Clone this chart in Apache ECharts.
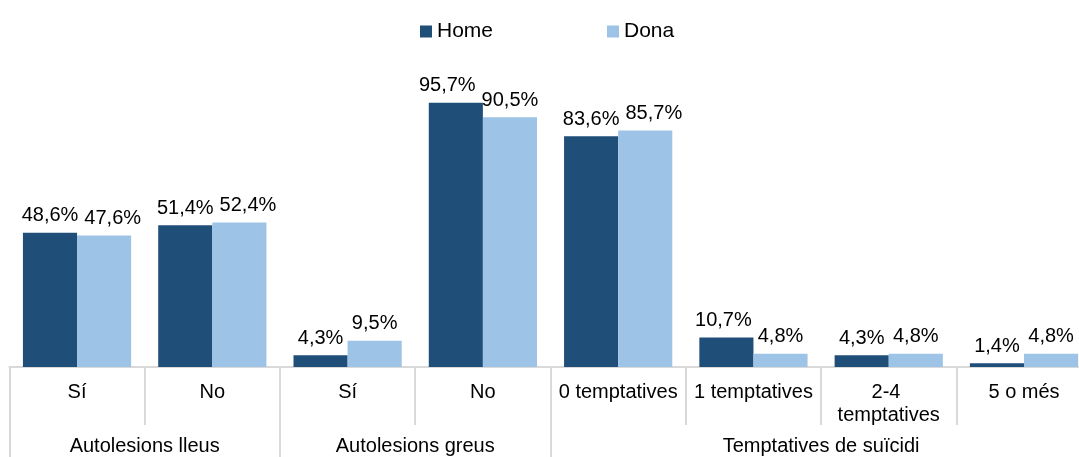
<!DOCTYPE html>
<html>
<head>
<meta charset="utf-8">
<script src="https://cdn.jsdelivr.net/npm/echarts@6/dist/echarts.min.js"></script>
<style>
  html, body { margin: 0; padding: 0; background: #fff; overflow: hidden; }
  /* the last category runs past the right edge of the page */
  #chart { width: 1092px; height: 457px; }
</style>
</head>
<body>
<div id="chart"></div>
<script>
// Categories and their parent groups
const categories = ['Sí', 'No', 'Sí', 'No', '0 temptatives', '1 temptatives', '2-4 temptatives', '5 o més'];
const groups = ['Autolesions lleus', 'Autolesions greus', 'Temptatives de suïcidi'];
const groupSpans = [2, 2, 4];

// Percentages per sex
const home = [48.6, 51.4, 4.3, 95.7, 83.6, 10.7, 4.3, 1.4];
const dona = [47.6, 52.4, 9.5, 90.5, 85.7, 4.8, 4.8, 4.8];

const FONT = "'Liberation Sans', Arial, sans-serif";
const FS = 20;
const GRID_LINE = '#d9d9d9';
const Y_MAX = 100;
const GRID_TOP = 91;
const GRID_BOTTOM = 90;
const LABEL_GAP = 6;

// Group axis uses half-category slots so group labels sit at group centres
// and ticks sit on group boundaries.
const halfSlots = [];
const groupLabelAt = {};
const groupTickAt = { 0: true };
let pos = 0;
groups.forEach((g, i) => {
  groupLabelAt[pos + groupSpans[i]] = g;
  pos += groupSpans[i] * 2;
  groupTickAt[pos] = true;
});
for (let i = 0; i <= categories.length * 2; i++) halfSlots.push(groupLabelAt[i] || '');

const pct = v => v.toFixed(1).replace('.', ',') + '%';
const fmt = p => pct(p.value);

const measureCtx = document.createElement('canvas').getContext('2d');
measureCtx.font = FS + "px 'Liberation Sans', Arial, sans-serif";
const textW = s => measureCtx.measureText(s).width;

// Keep paired value labels from colliding: when the two labels of a category
// sit at nearly the same height and touch, push one of them sideways.
function pairLabelLayout(params) {
  const i = params.dataIndex;
  const plotH = 457 - GRID_TOP - GRID_BOTTOM;
  const dyPx = Math.abs(home[i] - dona[i]) * plotH / Y_MAX;
  if (dyPx >= params.labelRect.height) return {};
  const overlap = textW(pct(home[i])) / 2 + textW(pct(dona[i])) / 2 + LABEL_GAP - params.rect.width;
  if (overlap <= 0) return {};
  const donaLower = home[i] - dona[i] > 3;
  if (params.seriesIndex === 1 && !donaLower) return { dx: overlap };
  if (params.seriesIndex === 0 && donaLower) return { dx: -overlap };
  return {};
}

const labelStyle = {
  show: true, position: 'top', distance: 7,
  fontSize: FS, color: '#000', fontFamily: FONT, formatter: fmt
};

const chart = echarts.init(document.getElementById('chart'));
chart.setOption({
  animation: false,
  textStyle: { fontFamily: FONT },
  legend: {
    left: 415,
    top: 16,
    icon: 'rect',
    itemWidth: 12,
    itemHeight: 12,
    itemGap: 114,
    textStyle: { fontSize: 21, color: '#000', fontFamily: FONT },
    data: ['Home', 'Dona']
  },
  grid: { left: 9.4, right: 0, top: GRID_TOP, bottom: GRID_BOTTOM, containLabel: false },
  xAxis: [
    {
      type: 'category',
      data: categories,
      axisLine: { lineStyle: { color: GRID_LINE, width: 2 } },
      axisTick: { show: true, interval: 0, length: 58, lineStyle: { color: GRID_LINE, width: 2 } },
      axisLabel: {
        interval: 0,
        margin: 14,
        fontSize: FS,
        color: '#000',
        fontFamily: FONT,
        width: 130,
        overflow: 'break',
        lineHeight: 23,
        align: 'center'
      }
    },
    {
      type: 'category',
      data: halfSlots,
      boundaryGap: false,
      position: 'bottom',
      axisLine: { show: false },
      axisTick: {
        show: true,
        interval: idx => !!groupTickAt[idx],
        length: 100,
        lineStyle: { color: GRID_LINE, width: 2 }
      },
      axisLabel: {
        interval: idx => !!groupLabelAt[idx],
        margin: 69,
        fontSize: FS,
        color: '#000',
        fontFamily: FONT
      }
    }
  ],
  yAxis: { type: 'value', min: 0, max: Y_MAX, show: false },
  series: [
    {
      name: 'Home',
      type: 'bar',
      data: home,
      barGap: '0%',
      barCategoryGap: '20%',
      itemStyle: { color: '#1f4e79' },
      label: labelStyle,
      labelLayout: pairLabelLayout
    },
    {
      name: 'Dona',
      type: 'bar',
      data: dona,
      barGap: '0%',
      barCategoryGap: '20%',
      itemStyle: { color: '#9dc3e6' },
      label: labelStyle,
      labelLayout: pairLabelLayout
    }
  ]
});
</script>
</body>
</html>
